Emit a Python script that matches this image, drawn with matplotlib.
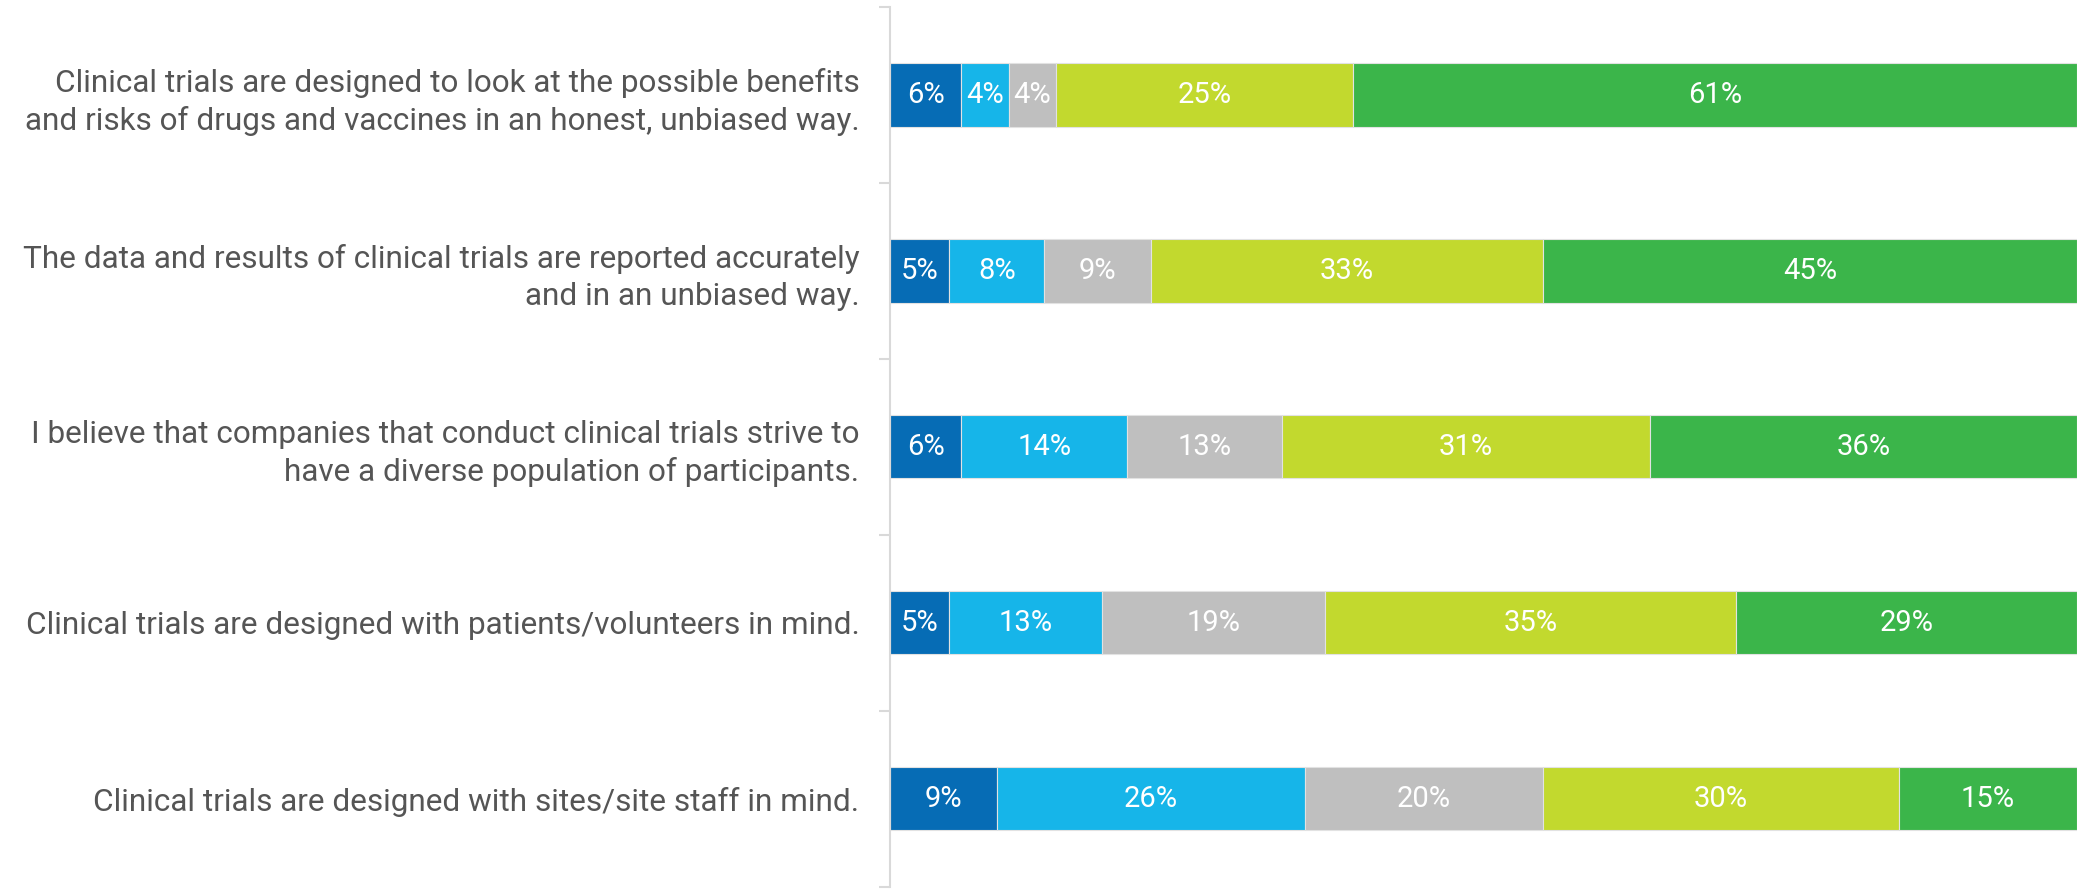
import matplotlib.pyplot as plt
import numpy as np

plt.rcParams['font.family'] = ['Roboto', 'DejaVu Sans']

statements = [
    "Clinical trials are designed to look at the possible benefits\nand risks of drugs and vaccines in an honest, unbiased way.",
    "The data and results of clinical trials are reported accurately\nand in an unbiased way.",
    "I believe that companies that conduct clinical trials strive to\nhave a diverse population of participants.",
    "Clinical trials are designed with patients/volunteers in mind.",
    "Clinical trials are designed with sites/site staff in mind.",
]
strongly_disagree = [6, 5, 6, 5, 9]
disagree = [4, 8, 14, 13, 26]
neutral = [4, 9, 13, 19, 20]
agree = [25, 33, 31, 35, 30]
strongly_agree = [61, 45, 36, 29, 15]

series = [strongly_disagree, disagree, neutral, agree, strongly_agree]
colors = ['#066cb5', '#16b5e9', '#bfbfbf', '#c2d92e', '#3bb54a']

data = np.array(series, dtype=float)
shares = data / data.sum(axis=0) * 100  # 100% stacked

fig = plt.figure(figsize=(20.77, 8.91), dpi=100)
ax = fig.add_axes([0.4285, 0.005, 0.5715, 0.987])

y = np.arange(len(statements))
left = np.zeros(len(statements))
for vals, labels, c in zip(shares, data, colors):
    ax.barh(y, vals, left=left, height=0.36, color=c,
            edgecolor='#e2e2e2', linewidth=0.8)
    for yi, l, v, lab in zip(y, left, vals, labels):
        ax.text(l + v / 2, yi, f"{int(lab)}%", ha='center', va='center',
                color='white', fontsize=21)
    left += vals

ax.set_xlim(0, 100)
ax.set_ylim(len(statements) - 0.5, -0.5)
ax.set_yticks(y)
ax.set_yticklabels(statements, fontsize=22.7, color='#555555', ha='right',
                   linespacing=1.32)
ax.set_yticks(np.arange(-0.5, len(statements)), minor=True)
ax.tick_params(axis='y', which='major', length=0, pad=22)
ax.tick_params(axis='y', which='minor', length=8, width=1.5, color='#d9d9d9')
ax.set_xticks([])
for s in ['top', 'right', 'bottom']:
    ax.spines[s].set_visible(False)
ax.spines['left'].set_color('#d9d9d9')
ax.spines['left'].set_linewidth(1.5)

plt.savefig("out.png", dpi=100)
plt.close('all')
